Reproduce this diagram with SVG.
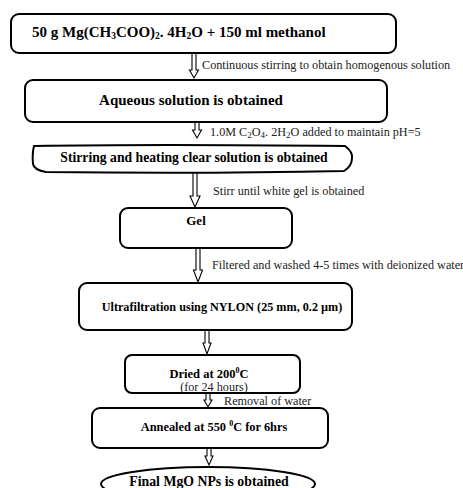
<svg xmlns="http://www.w3.org/2000/svg" width="463" height="488" viewBox="0 0 463 488">
<style>
.box{fill:#fff;stroke:#000;stroke-width:2}
.arr{fill:#fff;stroke:#000;stroke-width:1.1}
.t{font-family:"Liberation Serif",serif;font-weight:bold;fill:#000}
.l{font-family:"Liberation Serif",serif;fill:#222;font-size:12.2px}
</style>
<rect width="463" height="488" fill="#fff"/>
<g id="connectors">
<path class="arr" d="M192,53 V70 H189.5 L194,78 L198.5,70 H196 V53"/>
<path class="arr" d="M195,122 V130 H192.5 L197,138 L201.5,130 H199 V122"/>
<path class="arr" d="M193,172 V196 H190 L195,207 L200,196 H197 V172" stroke-width="1.6"/>
<path class="arr" d="M196,248 V270 H193.5 L198,282 L202.5,270 H200 V248"/>
<path class="arr" d="M205,330 V343 H203 L207,354 L211,343 H209 V330"/>
<path class="arr" d="M206,393 V400 H204 L208,407 L212,400 H210 V393"/>
<path class="arr" d="M207,448 V456 H205 L209,465 L213,456 H211 V448"/>
<text class="l" x="202" y="69">Continuous stirring to obtain homogenous solution</text>
<text class="l" x="210" y="136" font-size="13">1.0M C<tspan font-size="9" dy="2">2</tspan><tspan dy="-2">O</tspan><tspan font-size="9" dy="2">4</tspan><tspan dy="-2">. 2H</tspan><tspan font-size="9" dy="2">2</tspan><tspan dy="-2">O added to maintain pH=5</tspan></text>
<text class="l" x="213" y="195" font-size="13.2">Stirr until white gel is obtained</text>
<text class="l" x="212" y="269" font-size="12">Filtered and washed 4-5 times with deionized water</text>
<text class="l" x="224" y="405" font-size="11.5">Removal of water</text>
</g>
<g id="n1">
<rect class="box" x="11" y="14" width="385" height="39" rx="8"/>
<text class="t" x="32" y="37" font-size="15">50 g Mg(CH<tspan font-size="9.5" dy="1.5">3</tspan><tspan dy="-1.5">COO)</tspan><tspan font-size="9.5" dy="1.5">2</tspan><tspan dy="-1.5">. 4H</tspan><tspan font-size="9.5" dy="1.5">2</tspan><tspan dy="-1.5">O  +   150 ml methanol</tspan></text>
</g>
<g id="n2">
<rect class="box" x="25" y="80" width="362" height="42" rx="8"/>
<text class="t" x="191" y="105" font-size="15" text-anchor="middle">Aqueous solution is obtained</text>
</g>
<g id="n3">
<path class="box" d="M34,146 Q150,144 345,146 Q353,152 352,158 Q352,166 344,171 Q200,174 46,172 Q34,170 33,164 Q32,154 34,146 Z"/>
<text class="t" x="194" y="162" font-size="13.7" text-anchor="middle">Stirring and heating clear solution is obtained</text>
</g>
<g id="n4">
<rect class="box" x="120" y="208" width="172" height="40" rx="8"/>
<text class="t" x="196" y="225" font-size="13" text-anchor="middle">Gel</text>
</g>
<g id="n5">
<rect class="box" x="79" y="283" width="273" height="47" rx="8"/>
<text class="t" x="222" y="311" font-size="12.2" text-anchor="middle">Ultrafiltration using NYLON (25 mm, 0.2 µm)</text>
</g>
<g id="n6">
<rect class="box" x="125" y="355" width="175" height="38" rx="7"/>
<text class="t" x="209" y="378" font-size="12.5" text-anchor="middle">Dried at 200<tspan font-size="8" dy="-5">0</tspan><tspan dy="5">C</tspan></text>
<text class="l" x="214" y="391" font-size="10.5" text-anchor="middle">(for 24 hours)</text>
</g>
<g id="n7">
<rect class="box" x="92" y="408" width="236" height="40" rx="8"/>
<text class="t" x="214" y="431" font-size="12.4" text-anchor="middle">Annealed at 550 <tspan font-size="8" dy="-5">0</tspan><tspan dy="5">C for  6hrs</tspan></text>
</g>
<g id="n8">
<ellipse class="box" cx="208" cy="484" rx="107" ry="17"/>
<text class="t" x="209" y="486" font-size="13.8" text-anchor="middle">Final MgO NPs is obtained</text>
</g>
</svg>
